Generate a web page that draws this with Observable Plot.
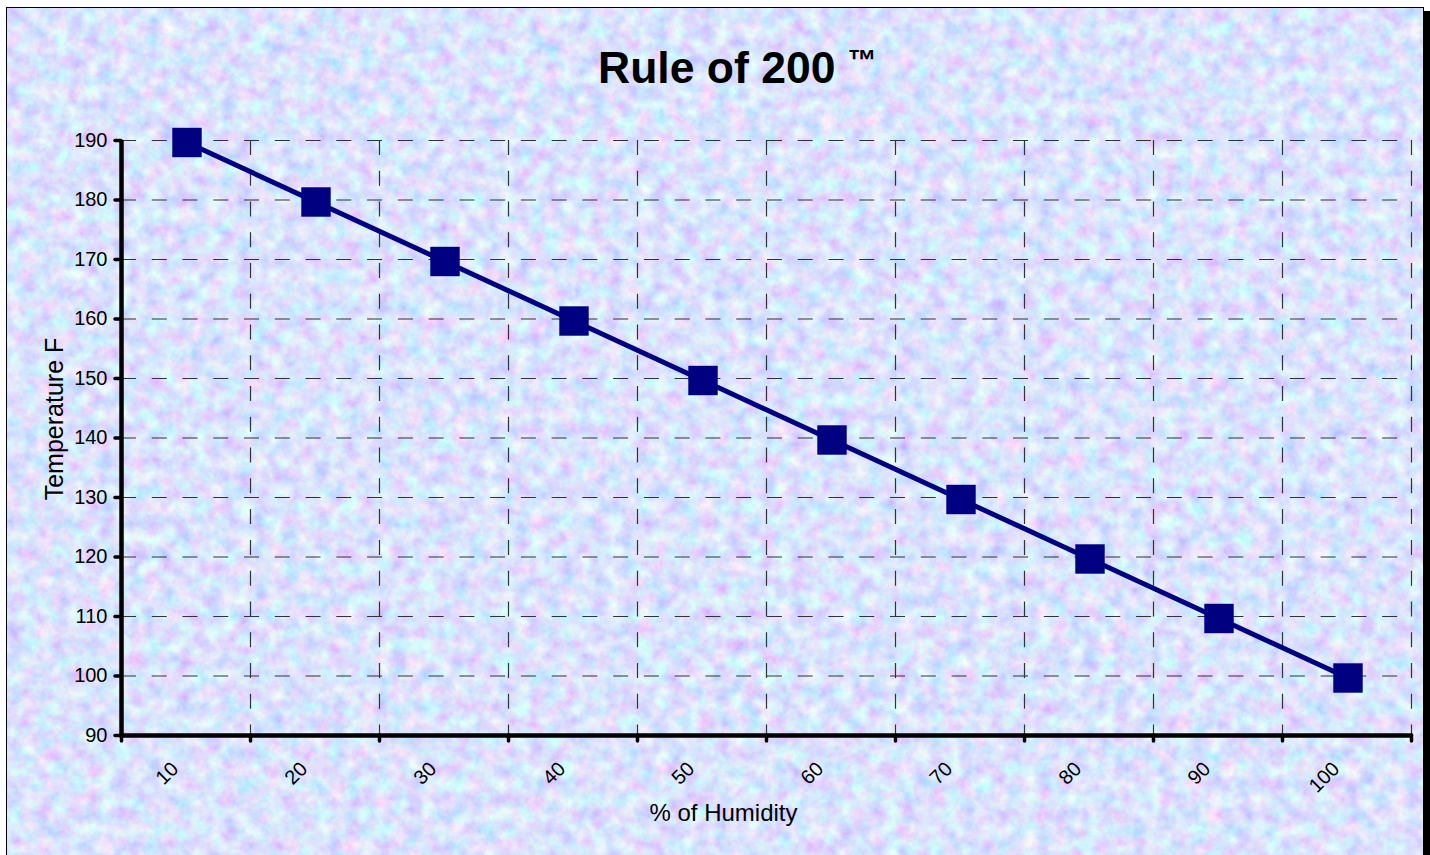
<!DOCTYPE html>
<html>
<head>
<meta charset="utf-8">
<script src="https://cdn.jsdelivr.net/npm/d3@7"></script>
<script src="https://cdn.jsdelivr.net/npm/@observablehq/plot@0.6"></script>
<style>
  html, body { margin: 0; padding: 0; background: #fff; width: 1430px; height: 855px; overflow: hidden; }
  #frame { position: absolute; left: 6px; top: 7px; width: 1418px; height: 900px; box-sizing: border-box;
           border: 1px solid #000; box-shadow: 7px 4px 0 #000; overflow: hidden; background: #bcccf4; }
  #tex { position: absolute; left: 0; top: 0; }
  #title { position: absolute; left: 598px; top: 46px; font: bold 44.5px "Liberation Sans", Arial, sans-serif;
           line-height: 44px; color: #000; white-space: nowrap; }
  #title span { font-size: 29px; position: relative; top: -13px; }
  #chart { position: absolute; left: 0; top: 0; }
</style>
</head>
<body>
<div id="frame">
  <svg id="tex" width="1430" height="900" xmlns="http://www.w3.org/2000/svg">
    <filter id="mottle" x="0" y="0" width="100%" height="100%">
      <feTurbulence type="fractalNoise" baseFrequency="0.065" numOctaves="4" seed="7"/>
      <feColorMatrix type="matrix" values="0.5 -0.1 -0.4 0 0.705  -0.2 0.5 -0.4 0 0.82  0 0 0.1 0 0.92  0 0 0 0 1"/>
    </filter>
    <rect width="1430" height="900" filter="url(#mottle)"/>
  </svg>
</div>
<div id="title">Rule of 200 <span>™</span></div>
<div id="chart"></div>
<script>
const humidity = [10, 20, 30, 40, 50, 60, 70, 80, 90, 100];
const temperature = [190, 180, 170, 160, 150, 140, 130, 120, 110, 100];
const yTicks = [90, 100, 110, 120, 130, 140, 150, 160, 170, 180, 190];
const xTitle = "% of Humidity";
const yTitle = "Temperature F";

const data = humidity.map((h, i) => ({humidity: h, temperature: temperature[i]}));
// category band edges (half a step either side of each category)
const edges = [humidity[0] - 5, ...humidity.map(h => h + 5)];

const gridStyle = {stroke: "#333", strokeWidth: 1.2, strokeDasharray: "15,15.76"};
const font = "'Liberation Sans', Arial, sans-serif";

const chart = Plot.plot({
  width: 1430,
  height: 855,
  marginLeft: 121,
  marginRight: 19,
  marginTop: 140,
  marginBottom: 120,
  style: {background: "transparent", fontFamily: font, fontSize: "20px", color: "#000", overflow: "visible"},
  x: {domain: [edges[0], edges[edges.length - 1]]},
  y: {domain: [yTicks[0], yTicks[yTicks.length - 1]]},
  marks: [
    Plot.ruleY(yTicks.filter(t => t > yTicks[0]), gridStyle),
    Plot.ruleX(edges.slice(1), gridStyle),
    Plot.axisY({ticks: yTicks, tickSize: 6, tickPadding: 8, strokeWidth: 3.5, strokeLinecap: "round", label: null, fontSize: 20}),
    Plot.axisX({ticks: edges, tickSize: 6, tickFormat: () => "", strokeWidth: 3.5, strokeLinecap: "round", label: null}),
    Plot.text(humidity, {x: d => d, text: d => String(d), frameAnchor: "bottom", rotate: -45,
      textAnchor: "end", lineAnchor: "middle", dx: -11, dy: 30, fontSize: 20}),
    Plot.ruleX([edges[0]], {stroke: "#000", strokeWidth: 4.5}),
    Plot.ruleY([yTicks[0]], {stroke: "#000", strokeWidth: 4.5, strokeLinecap: "round"}),
    Plot.line(data, {x: "humidity", y: "temperature", stroke: "#000080", strokeWidth: 5, dx: 1, dy: 2}),
    Plot.dot(data, {x: "humidity", y: "temperature", symbol: "square", r: 16.6, fill: "#000080", stroke: "none", dx: 1, dy: 2}),
    Plot.text([yTitle], {frameAnchor: "left", text: d => d, rotate: -90, dx: -67, dy: -19,
      lineAnchor: "middle", textAnchor: "middle", fontSize: 25}),
    Plot.text([xTitle], {frameAnchor: "bottom", text: d => d, dx: -43, dy: 78,
      lineAnchor: "middle", textAnchor: "middle", fontSize: 24})
  ]
});
document.getElementById("chart").appendChild(chart);
</script>
</body>
</html>
